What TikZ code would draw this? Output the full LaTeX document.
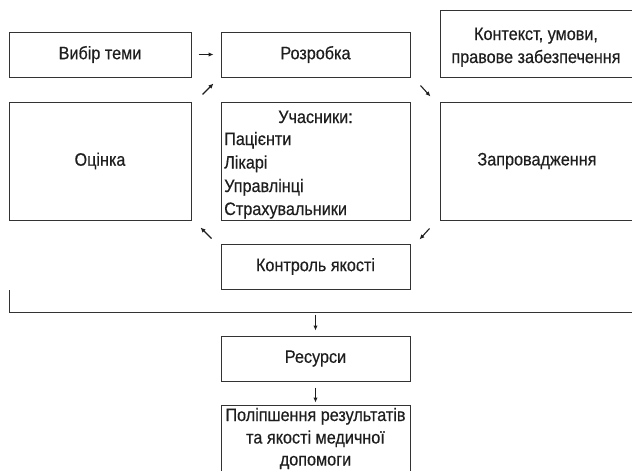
\documentclass[tikz,border=0pt]{standalone}
\usepackage{fontspec}
\setmainfont{Liberation Sans}[FakeStretch=0.90,FakeBold=0.4]
\usetikzlibrary{arrows.meta,calc}
\definecolor{boxc}{HTML}{333333}
\definecolor{txtc}{HTML}{1E1E1E}
\begin{document}
\begin{tikzpicture}[x=1pt,y=-1pt,
  box/.style={draw=boxc, line width=1pt, inner sep=0pt, text=txtc, align=center,
    font=\fontsize{18}{23}\selectfont},
  txt/.style={inner sep=0pt, text=txtc, font=\fontsize{18}{23}\selectfont},
  arr/.style={-{Latex[length=5pt,width=4.5pt]}, line width=1.1pt, draw=txtc},
]
\useasboundingbox (0,0) rectangle (632,471);
\clip (0,0) rectangle (632,471);
% boxes
\node[box, minimum width=182pt, minimum height=45pt] (A) at (100,54.5) {Вибір теми};
\node[box, minimum width=189pt, minimum height=45pt] (B) at (315.5,54.5) {Розробка};
\node[box, minimum width=194pt, minimum height=67pt] (C) at (537,43.5) {};
\node[txt, anchor=base] (C1) at (536,40) {Контекст, умови,};
\node[txt, anchor=base] (C2) at (536,63) {правове забезпечення};
\node[box, minimum width=182pt, minimum height=118pt] (D) at (100,161) {Оцінка};
\node[box, minimum width=189pt, minimum height=118pt] (E) at (315.5,161) {};
\node[txt, anchor=base] (E0) at (315.5,123) {Учасники:};
\node[txt, anchor=base west] (E1) at (224,145) {Пацієнти};
\node[txt, anchor=base west] (E2) at (224,168.5) {Лікарі};
\node[txt, anchor=base west] (E3) at (224,192) {Управлінці};
\node[txt, anchor=base west] (E4) at (224,215) {Страхувальники};
\node[box, minimum width=194pt, minimum height=118pt] (F) at (537,161) {Запровадження};
\node[box, minimum width=189pt, minimum height=45pt] (G) at (315.5,266.5) {Контроль якості};
\node[box, minimum width=189pt, minimum height=45pt] (H) at (315.5,358.5) {Ресурси};
\node[box, minimum width=189pt, minimum height=90pt] (I) at (315.5,450) {};
\node[txt, anchor=base] (I1) at (315.5,421) {Поліпшення результатів};
\node[txt, anchor=base] (I2) at (315.5,443.5) {та якості медичної};
\node[txt, anchor=base] (I3) at (315.5,465.5) {допомоги};
% bracket line
\coordinate (L1) at (9,290);
\coordinate (L2) at (9,312);
\coordinate (L3) at (640,312);
\draw[draw=boxc, line width=1pt] (L1) -- (L2) -- (L3);
% small arrows
\draw[arr] ($(A.east)+(7,0)$) -- ($(B.west)+(-7,0)$);
\draw[arr] ($(D.north east)+(11,-7)$) -- ($(D.north east)+(22,-18)$);
\draw[arr] ($(B.south east)+(10,8)$) -- ($(B.south east)+(20,19)$);
\draw[arr] ($(E.south east)+(19,8)$) -- ($(E.south east)+(9,19)$);
\draw[arr] ($(D.south east)+(20,18)$) -- ($(D.south east)+(9,7)$);
\draw[arr] ($(H.north)+(0,-21)$) -- ($(H.north)+(0,-5)$);
\draw[arr] ($(H.south)+(0,6)$) -- ($(H.south)+(0,21)$);
\end{tikzpicture}
\end{document}
